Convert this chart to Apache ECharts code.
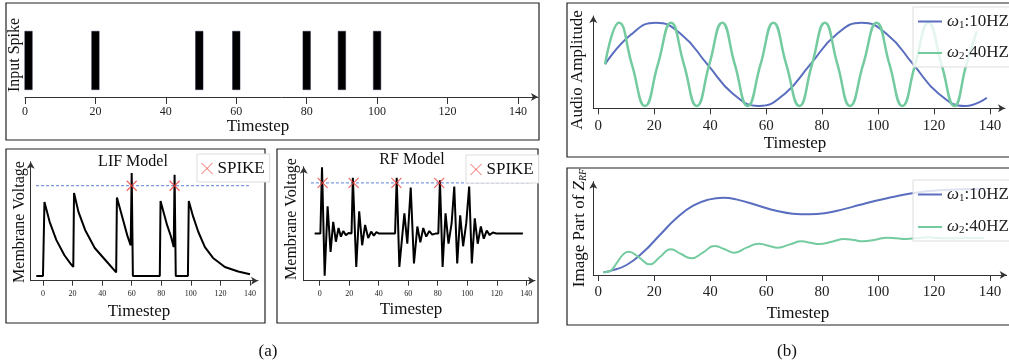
<!DOCTYPE html>
<html>
<head>
<meta charset="utf-8">
<script src="https://cdn.jsdelivr.net/npm/echarts@6/dist/echarts.min.js"></script>
<style>
  html, body { margin: 0; padding: 0; background: #fff; }
  #main { width: 1009px; height: 362px; }
</style>
</head>
<body>
<div id="main"></div>
<script>
const FONT = 'Liberation Serif';
const BLUE = '#5a6ebf';
const GREEN = '#74cba0';
const RED = '#e8413c';

// tick labels shared by every panel
const ticks = [0, 20, 40, 60, 80, 100, 120, 140];

// (a) top: input spike times
const spikeTimes = [1, 20, 49.5, 60, 80, 90, 100];

// (a) LIF membrane voltage, threshold = 1
const threshold = 1;
const lifTrace = [
  [-4.5, 0], [0, 0], [1, 0.82], [4.5, 0.6], [9, 0.4], [14.5, 0.23], [18.5, 0.14], [20.5, 0.1],
  [21, 0.92], [24, 0.71], [28.5, 0.51], [35, 0.31], [42, 0.18], [49.5, 0.04],
  [50, 0.87], [52, 0.75], [54.5, 0.6], [57, 0.45], [59.3, 0.34], [60, 1.14], [60.8, 0],
  [79, 0], [79.5, 0.83], [81.5, 0.71], [84, 0.56], [86.5, 0.44], [88.4, 0.32], [89, 1.12], [89.8, 0],
  [98, 0], [98.6, 0.83], [101.5, 0.66], [105, 0.49], [109.5, 0.32], [115, 0.2], [123, 0.1], [132, 0.05], [140, 0.02]
];
const lifSpikes = [60, 89];

// (a) RF membrane voltage
const rfTrace = [
  [-3.4, 0], [0.5, 0], [1.6, 1.31], [3.4, -0.83], [5.4, 0.54], [7.4, -0.36], [9.2, 0.23], [11, -0.16],
  [12.8, 0.11], [14.4, -0.06], [16, 0.05], [17.8, -0.03], [19.6, 0.01], [21.6, 0],
  [22.5, 1.1], [24.8, -0.66], [26.8, 0.44], [28.8, -0.23], [30.8, 0.17], [32.9, -0.09], [34.9, 0.04],
  [36.7, -0.04], [38.5, 0.03], [40.3, 0], [51.1, 0],
  [52.2, 1.1], [54, -0.66], [57.4, 0.4], [59.4, -0.2], [61.7, 0.91], [63.9, -0.59], [66.2, 0.14],
  [68.2, -0.17], [70.2, 0.11], [72.2, -0.06], [74.3, 0.05], [76.3, -0.02], [78.5, 0], [80.4, 0],
  [81.5, 1.05], [83.3, -0.66], [85.3, 0.4], [87.3, -0.2], [89.4, 0.2], [91.2, 0.93], [93.2, -0.59],
  [95.2, 0.36], [97.2, -0.25], [99.3, 0.2], [101.3, 0.93], [103.1, -0.59], [105.1, 0.3], [107.1, -0.2],
  [109.2, 0.14], [111.2, -0.1], [113.2, 0.06], [115.2, -0.03], [117.3, 0.02], [119.7, 0], [137.7, 0]
];
const rfSpikes = [2, 23, 52, 81];

// (b) top: audio amplitude
const audioW1 = [
  [2.4, 0], [11.6, 0.71], [20.6, 1], [29.8, 0.71], [39, 0], [48.2, -0.71], [57.4, -1], [66.6, -0.71],
  [75.8, 0], [85, 0.71], [94.2, 1], [103.4, 0.71], [112.6, 0], [121.8, -0.71], [131.2, -1], [138.9, -0.8]
];
const audioW2 = [
  [2.4, 0], [7.4, 1], [12, 0], [16.7, -1], [21.3, 0], [26, 1], [30.6, 0], [35.2, -1], [39.7, 0],
  [44.3, 1], [48.8, 0], [53.4, -1], [58, 0], [62.6, 1], [67.2, 0], [71.9, -1], [76.4, 0], [81, 1],
  [85.5, 0], [90, -1], [94.7, 0], [99.5, 1], [104.1, 0], [108.7, -1], [113.3, 0], [118, 1],
  [122.7, 0], [127.3, -1], [131.6, 0], [135.3, 0.8]
];

// (b) bottom: imaginary part of Z_RF
const zrfW1 = [
  [1.8, 0], [4.2, 0.04], [10.1, 0.22], [16, 0.6], [22, 1.12], [27.9, 1.62], [33.9, 2.0], [39.8, 2.19],
  [44.6, 2.24], [49.3, 2.19], [57.6, 1.99], [63.6, 1.85], [69.5, 1.76], [75.5, 1.74], [81.4, 1.78],
  [87.4, 1.89], [93.3, 2.02], [99.2, 2.15], [105.2, 2.26], [111.1, 2.36], [117.1, 2.43], [123, 2.47],
  [129, 2.49], [138.2, 2.5]
];
const zrfW2 = [
  [1.8, 0], [4.2, 0.04], [6.5, 0.27], [8.9, 0.54], [10.7, 0.62], [14.5, 0.45], [18.4, 0.24], [22, 0.46],
  [25.9, 0.69], [29.6, 0.55], [33.3, 0.42], [37.5, 0.6], [41.4, 0.79], [45, 0.7], [48.7, 0.59], [53, 0.74],
  [57.3, 0.86], [60.8, 0.8], [64.2, 0.74], [68.5, 0.84], [72.7, 0.93], [75.8, 0.89], [79, 0.85],
  [83.5, 0.92], [88, 1.0], [91.3, 0.97], [94.7, 0.93], [99, 0.98], [103.4, 1.04], [106.7, 1.02],
  [110, 1.0], [114, 1.03], [118.3, 1.05], [121.8, 1.03], [125.4, 1.02], [131, 1.03], [137.9, 1.03]
];

const chart = echarts.init(document.getElementById('main'));

function xAxis(gridIndex, min, max, fontSize, margin, tickLen) {
  return {
    type: 'value', gridIndex, min, max,
    axisLine: {onZero: false, lineStyle: {color: '#333', width: 1}, symbol: ['none', 'arrow'], symbolSize: [6, 7]},
    axisTick: {customValues: ticks, length: tickLen, lineStyle: {color: '#333'}},
    axisLabel: {customValues: ticks, fontFamily: FONT, fontSize, color: '#222', margin},
    splitLine: {show: false}
  };
}

function yAxis(gridIndex, min, max, showLine) {
  return {
    type: 'value', gridIndex, min, max,
    axisLine: {show: showLine, onZero: false, lineStyle: {color: '#333', width: 1}, symbol: ['none', 'arrow'], symbolSize: [6, 7]},
    axisTick: {show: false}, axisLabel: {show: false}, splitLine: {show: false}
  };
}

function text(str, x, y, size, rot, rich) {
  return {
    type: 'text', x, y, rotation: rot || 0,
    style: {text: str, fontFamily: FONT, fontSize: size, fill: '#111', align: 'center', verticalAlign: 'middle', rich}
  };
}

function box(x, y, w, h) {
  return {type: 'rect', shape: {x, y, width: w, height: h}, style: {fill: 'none', stroke: '#222', lineWidth: 1.2}};
}

const xMark = 'path://M0,0L10,10M10,0L0,10';

const omegaRich = {
  w: {fontFamily: FONT, fontStyle: 'italic', fontSize: 17, color: '#222'},
  s: {fontFamily: FONT, fontSize: 11, color: '#222', padding: [7, 0, 0, 0]}
};
function omegaLabel(name) {
  return name === 'w1' ? '{w|ω}{s|1}:10HZ' : '{w|ω}{s|2}:40HZ';
}
function waveLegend(top, gap) {
  return {
    data: ['w1', 'w2'], orient: 'vertical', left: 913, top,
    icon: 'rect', itemWidth: 24, itemHeight: 2, itemGap: gap,
    padding: [6, 8, 5, 5], backgroundColor: 'rgba(255,255,255,0.8)', borderColor: '#ddd', borderWidth: 1,
    textStyle: {fontFamily: FONT, fontSize: 17, color: '#222', rich: omegaRich},
    formatter: omegaLabel
  };
}
function spikeLegend(left, top) {
  return {
    data: ['SPIKE'], left, top, icon: xMark, itemWidth: 11, itemHeight: 11,
    padding: [6, 5, 5, 4], backgroundColor: '#fff', borderColor: '#ddd', borderWidth: 1,
    itemStyle: {color: 'rgba(0,0,0,0)', borderColor: RED, borderWidth: 1},
    textStyle: {fontFamily: FONT, fontSize: 17, color: '#111'}
  };
}

function thresholdLine(xi, from, to) {
  return {
    type: 'line', xAxisIndex: xi, yAxisIndex: xi, silent: true, symbol: 'none',
    data: [[from, threshold], [to, threshold]],
    lineStyle: {color: '#5b7fd6', width: 1, type: [3, 2]}
  };
}
function spikeMarks(xi, times) {
  return {
    type: 'scatter', name: 'SPIKE', xAxisIndex: xi, yAxisIndex: xi, symbol: xMark, symbolSize: 10,
    itemStyle: {color: 'rgba(0,0,0,0)', borderColor: RED, borderWidth: 1.2},
    data: times.map(t => [t, threshold]), z: 5
  };
}

const option = {
  animation: false,
  grid: [
    {left: 25, top: 31, width: 513, height: 66},
    {left: 30.7, top: 161.7, width: 227.3, height: 119},
    {left: 303.7, top: 166.7, width: 231.3, height: 114},
    {left: 593.3, top: 16, width: 411.7, height: 92.3},
    {left: 593.3, top: 181.7, width: 413.4, height: 93.3}
  ],
  xAxis: [
    xAxis(0, 0, 145.7, 12, 9, 7),
    xAxis(1, -8.3, 145.4, 8, 9, 5),
    xAxis(2, -10.8, 145.9, 8, 9, 5),
    xAxis(3, -1.79, 145.4, 15, 10, 6),
    xAxis(4, -1.79, 146, 15, 10, 6)
  ],
  yAxis: [
    yAxis(0, -0.12, 1, false),
    yAxis(1, -0.052, 1.266, true),
    yAxis(2, -0.93, 1.32, true),
    yAxis(3, -1.055, 1.16, true),
    yAxis(4, -0.08, 2.72, true)
  ],
  legend: [
    spikeLegend(197, 154),
    spikeLegend(466, 155),
    waveLegend(7, 14),
    waveLegend(180, 15)
  ],
  series: [
    {
      type: 'bar', xAxisIndex: 0, yAxisIndex: 0, barWidth: 8,
      itemStyle: {color: '#000', borderColor: '#1c2340', borderWidth: 0.5},
      data: spikeTimes.map(t => [t, 1])
    },
    thresholdLine(1, -4.7, 139.3),
    {type: 'line', xAxisIndex: 1, yAxisIndex: 1, symbol: 'none', data: lifTrace, lineStyle: {color: '#000', width: 2}},
    spikeMarks(1, lifSpikes),
    thresholdLine(2, -5.9, 143.7),
    {type: 'line', xAxisIndex: 2, yAxisIndex: 2, symbol: 'none', data: rfTrace, lineStyle: {color: '#000', width: 2}},
    spikeMarks(2, rfSpikes),
    {type: 'line', name: 'w1', xAxisIndex: 3, yAxisIndex: 3, symbol: 'none', smooth: true, data: audioW1, color: BLUE, lineStyle: {width: 2}},
    {type: 'line', name: 'w2', xAxisIndex: 3, yAxisIndex: 3, symbol: 'none', smooth: true, data: audioW2, color: GREEN, lineStyle: {width: 2.5}},
    {type: 'line', name: 'w1', xAxisIndex: 4, yAxisIndex: 4, symbol: 'none', smooth: true, data: zrfW1, color: BLUE, lineStyle: {width: 2}},
    {type: 'line', name: 'w2', xAxisIndex: 4, yAxisIndex: 4, symbol: 'none', smooth: true, data: zrfW2, color: GREEN, lineStyle: {width: 2}}
  ],
  graphic: {
    elements: [
      box(6, 3, 533, 137),
      box(6, 149, 259, 174),
      box(277, 149, 261, 174),
      box(567, 3, 460, 154),
      box(567, 168, 460, 157),
      text('Input Spike', 15, 55, 16, Math.PI / 2),
      text('Timestep', 258, 127, 17),
      text('LIF Model', 133, 162, 16),
      text('Membrane Voltage', 20, 222, 16, Math.PI / 2),
      text('Timestep', 139, 312, 17),
      text('RF Model', 412, 160, 16),
      text('Membrane Voltage', 292, 219, 16, Math.PI / 2),
      text('Timestep', 411, 310, 17),
      text('Audio Amplitude', 578, 70, 17, Math.PI / 2),
      text('Timestep', 795, 144, 17),
      text('{n|Image Part of }{z|Z}{s|RF}', 580, 228, 17, Math.PI / 2, {
        n: {fontFamily: FONT, fontSize: 17, color: '#111'},
        z: {fontFamily: FONT, fontSize: 17, fontStyle: 'italic', color: '#111'},
        s: {fontFamily: FONT, fontSize: 10, fontStyle: 'italic', color: '#111', padding: [7, 0, 0, 0]}
      }),
      text('Timestep', 798, 314, 17),
      text('(a)', 268, 352, 17),
      text('(b)', 787, 352, 17)
    ]
  }
};

chart.setOption(option);
</script>
</body>
</html>
